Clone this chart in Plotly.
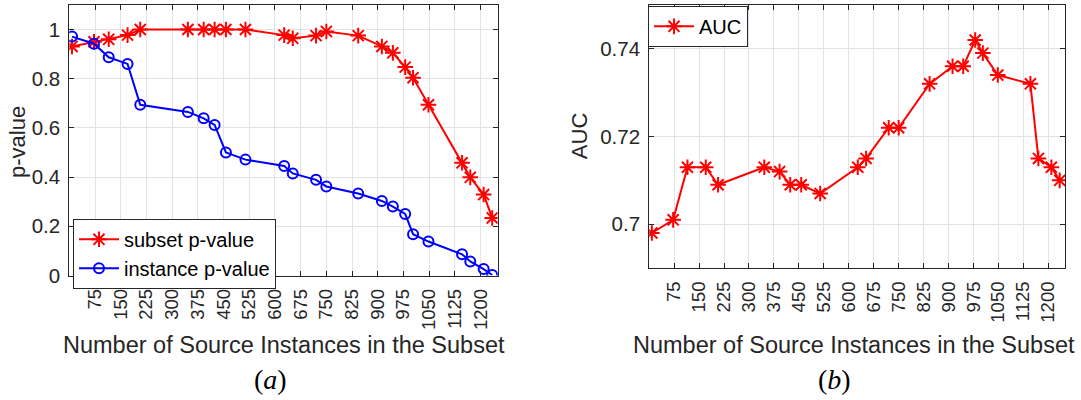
import plotly.graph_objects as go

# ---- data ----
n_instances = [8, 72, 115, 170, 207, 346, 392, 424, 457, 514, 627, 652,
               720, 750, 843, 912, 944, 980, 1003, 1048, 1146, 1170, 1209, 1234]
subset_p = [0.931, 0.950, 0.960, 0.977, 1.0, 1.0, 1.0, 1.0, 1.0, 1.0, 0.977, 0.964,
            0.975, 0.992, 0.975, 0.931, 0.905, 0.847, 0.804, 0.694, 0.458, 0.399, 0.329, 0.234]
instance_p = [0.971, 0.942, 0.887, 0.860, 0.694, 0.665, 0.639, 0.612, 0.500, 0.471, 0.445, 0.415,
              0.389, 0.362, 0.333, 0.303, 0.280, 0.250, 0.168, 0.138, 0.086, 0.057, 0.026, 0.002]
auc = [0.698, 0.701, 0.713, 0.713, 0.709, 0.713, 0.712, 0.709, 0.709, 0.707, 0.713, 0.715,
       0.722, 0.722, 0.732, 0.736, 0.736, 0.742, 0.739, 0.734, 0.732, 0.715, 0.713, 0.710]

x_ticks = list(range(75, 1201, 75))
x_ticktext = [str(v) for v in x_ticks]
p_ticks = [0, 0.2, 0.4, 0.6, 0.8, 1.0]
p_ticktext = ['0', '0.2', '0.4', '0.6', '0.8', '1']
auc_ticks = [0.70, 0.72, 0.74]
auc_ticktext = ['0.7', '0.72', '0.74']

RED = '#ff0000'
BLUE = '#0000ff'
DARK = '#262626'
FONT = 'Liberation Sans, Arial, Helvetica, sans-serif'

fig = go.Figure()
fig.add_trace(go.Scatter(
    x=n_instances, y=subset_p, mode='lines+markers', name='subset p-value',
    line=dict(color=RED, width=2),
    marker=dict(symbol='asterisk-open', size=13, color=RED, line=dict(color=RED, width=2)),
    xaxis='x', yaxis='y', legend='legend'))
fig.add_trace(go.Scatter(
    x=n_instances, y=instance_p, mode='lines+markers', name='instance p-value',
    line=dict(color=BLUE, width=2),
    marker=dict(symbol='circle-open', size=10, color=BLUE, line=dict(color=BLUE, width=2)),
    xaxis='x', yaxis='y', legend='legend'))
fig.add_trace(go.Scatter(
    x=n_instances, y=auc, mode='lines+markers', name='AUC',
    line=dict(color=RED, width=2),
    marker=dict(symbol='asterisk-open', size=13, color=RED, line=dict(color=RED, width=2)),
    xaxis='x2', yaxis='y2', legend='legend2'))

common = dict(showline=True, linecolor=DARK, linewidth=1, mirror='ticks',
              ticks='inside', ticklen=5, tickcolor=DARK, showgrid=True,
              gridcolor='#e3e3e3', gridwidth=1, zeroline=False)
xtickfont = dict(family=FONT, size=18.5, color=DARK)
ytickfont = dict(family=FONT, size=20.5, color=DARK)

W, H = 1081, 400
fig.update_layout(
    width=W, height=H, margin=dict(l=0, r=0, t=0, b=0),
    paper_bgcolor='white', plot_bgcolor='white',
    xaxis=dict(domain=[69.3 / W, 497.7 / W], range=[0, 1250], tickvals=x_ticks,
               ticktext=x_ticktext, tickangle=-90, anchor='y', ticklabelstandoff=5,
               tickfont=xtickfont, **common),
    yaxis=dict(domain=[1 - 283.3 / H, 1 - 5 / H], range=[0, 1.1], tickvals=p_ticks,
               ticktext=p_ticktext, anchor='x', ticklabelstandoff=4,
               tickfont=ytickfont, **common),
    xaxis2=dict(domain=[649.2 / W, 1065 / W], range=[0, 1250], tickvals=x_ticks,
                ticktext=x_ticktext, tickangle=-90, anchor='y2', ticklabelstandoff=5,
                tickfont=xtickfont, **common),
    yaxis2=dict(domain=[1 - 275.7 / H, 1 - 5 / H], range=[0.69, 0.75], tickvals=auc_ticks,
                ticktext=auc_ticktext, anchor='x2', ticklabelstandoff=4,
                tickfont=ytickfont, **common),
    legend=dict(x=73 / W, y=1 - 225 / H, xanchor='left', yanchor='top',
                bordercolor=DARK, borderwidth=1, bgcolor='white',
                font=dict(family=FONT, size=20, color='black'), itemwidth=40,
                tracegroupgap=0),
    legend2=dict(x=648 / W, y=1 - 6 / H, xanchor='left', yanchor='top',
                 bordercolor=DARK, borderwidth=1, bgcolor='white',
                 font=dict(family=FONT, size=20, color='black'), itemwidth=40),
    showlegend=True,
)

xt_font = dict(family=FONT, size=23.5, color=DARK)
yt_font = dict(family=FONT, size=22, color=DARK)
cap_font = dict(family='Liberation Serif, DejaVu Serif, serif', size=28, color='black')
fig.add_annotation(text='Number of Source Instances in the Subset', x=283.5 / W, y=1 - 355 / H,
                   xref='paper', yref='paper', xanchor='center', yanchor='middle',
                   showarrow=False, font=xt_font)
fig.add_annotation(text='Number of Source Instances in the Subset', x=854 / W, y=1 - 355 / H,
                   xref='paper', yref='paper', xanchor='center', yanchor='middle',
                   showarrow=False, font=xt_font)
fig.add_annotation(text='p-value', x=18 / W, y=1 - 146 / H, textangle=-90,
                   xref='paper', yref='paper', xanchor='center', yanchor='middle',
                   showarrow=False, font=yt_font)
fig.add_annotation(text='AUC', x=579 / W, y=1 - 140 / H, textangle=-90,
                   xref='paper', yref='paper', xanchor='center', yanchor='middle',
                   showarrow=False, font=yt_font)
fig.add_annotation(text='(<i>a</i>)', x=270 / W, y=1 - 390 / H,
                   xref='paper', yref='paper', xanchor='center', yanchor='middle',
                   showarrow=False, font=cap_font)
fig.add_annotation(text='(<i>b</i>)', x=834 / W, y=1 - 390 / H,
                   xref='paper', yref='paper', xanchor='center', yanchor='middle',
                   showarrow=False, font=cap_font)

fig.write_html('out.html')
